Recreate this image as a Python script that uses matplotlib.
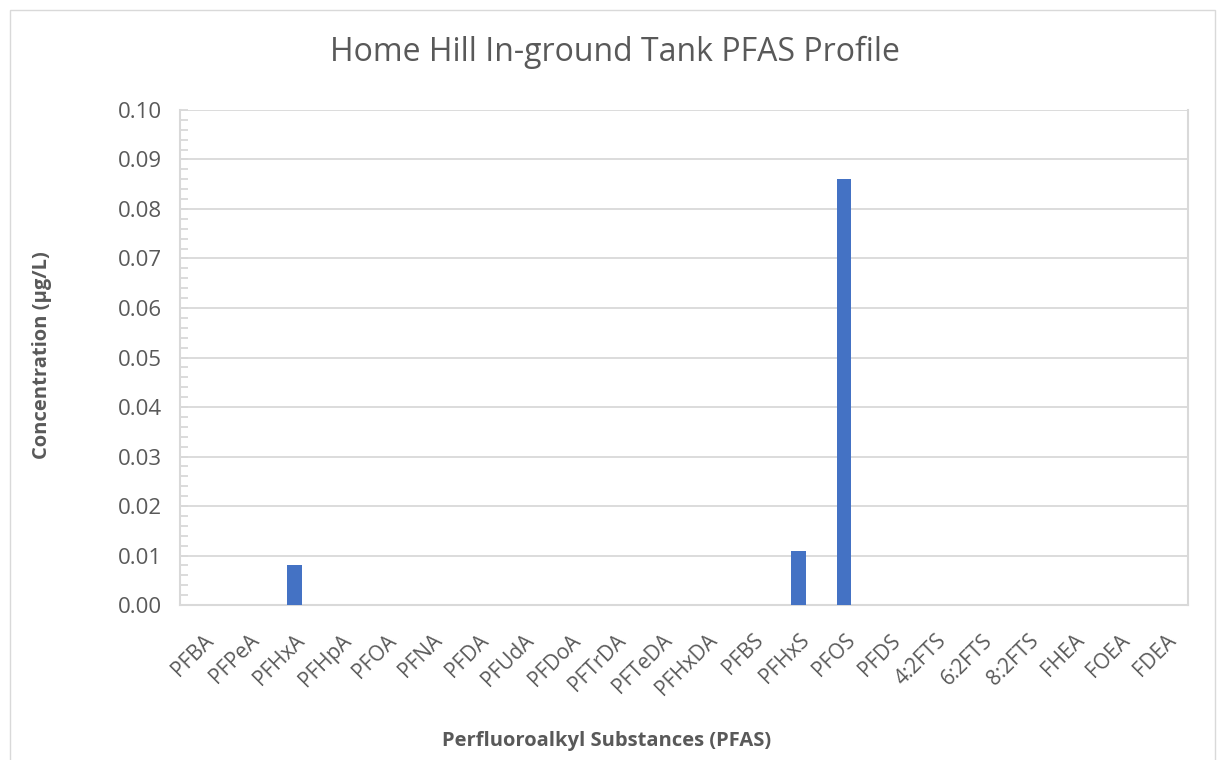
import matplotlib.pyplot as plt
import numpy as np
from matplotlib.patches import Rectangle
from matplotlib.ticker import MultipleLocator

substances = ['PFBA', 'PFPeA', 'PFHxA', 'PFHpA', 'PFOA', 'PFNA', 'PFDA', 'PFUdA',
              'PFDoA', 'PFTrDA', 'PFTeDA', 'PFHxDA', 'PFBS', 'PFHxS', 'PFOS', 'PFDS',
              '4:2FTS', '6:2FTS', '8:2FTS', 'FHEA', 'FOEA', 'FDEA']
conc = [0, 0, 0.008, 0, 0, 0, 0, 0, 0, 0, 0, 0, 0, 0.011, 0.086, 0, 0, 0, 0, 0, 0, 0]

plt.rcParams['font.family'] = ['Open Sans', 'DejaVu Sans']
txt = '#595959'
grid = '#D9D9D9'

fig = plt.figure(figsize=(12.21, 7.60), dpi=100)
ax = fig.add_axes([0.1474, 0.2039, 0.973 - 0.1474, 0.8553 - 0.2039])

x = np.arange(len(substances))
ax.bar(x, conc, width=0.31, color='#4472C4', zorder=3)

ax.set_xlim(-0.5, len(substances) - 0.5)
ax.set_ylim(0, 0.10)
ax.yaxis.set_major_locator(MultipleLocator(0.01))
ax.yaxis.set_minor_locator(MultipleLocator(0.002))
ax.yaxis.set_major_formatter(plt.FuncFormatter(lambda v, p: '%.2f' % v))
ax.grid(axis='y', which='major', color=grid, linewidth=1.3, zorder=0)

ax.set_xticks(x)
ax.set_xticklabels(substances, rotation=45, ha='right', rotation_mode='anchor')
ax.tick_params(axis='x', length=0, pad=18, labelsize=15, labelcolor=txt)
ax.tick_params(axis='y', which='major', length=6, direction='in', color=grid,
               width=1.3, labelsize=16, labelcolor=txt, pad=13)
ax.tick_params(axis='y', which='minor', length=6, direction='in', color=grid, width=1.3)

for s in ['left', 'bottom', 'right']:
    ax.spines[s].set_color(grid)
    ax.spines[s].set_linewidth(1.5)
ax.spines['top'].set_visible(False)

fig.text(615 / 1221, 1 - 52 / 760, 'Home Hill In-ground Tank PFAS Profile', fontsize=23,
         color=txt, ha='center', va='center')
fig.text(42 / 1221, 1 - 355 / 760, 'Concentration (µg/L)', fontsize=14.5, fontweight='bold',
         color=txt, ha='center', va='center', rotation=90)
fig.text(607 / 1221, 1 - 741 / 760, 'Perfluoroalkyl Substances (PFAS)', fontsize=14.5,
         fontweight='bold', color=txt, ha='center', va='center')

fig.patches.append(Rectangle((10 / 1221, -0.01), 1205 / 1221, 1 - 10 / 760 + 0.01,
                             transform=fig.transFigure, fill=False, edgecolor=grid, linewidth=1))

fig.savefig('out.png', dpi=100)
